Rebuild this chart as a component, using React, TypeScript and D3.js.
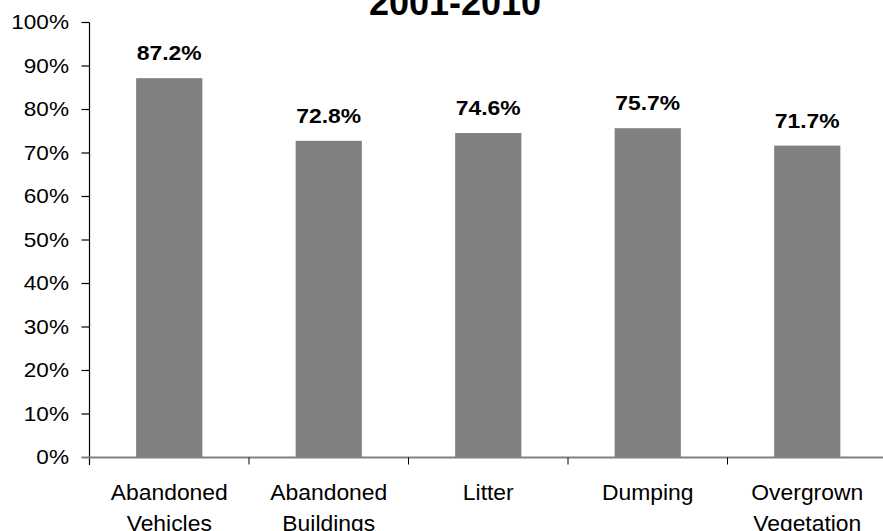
import React from "react";
import * as d3 from "d3";

// Share of complaints resolved, by category, 2001-2010
const categories: string[][] = [
  ["Abandoned", "Vehicles"],
  ["Abandoned", "Buildings"],
  ["Litter"],
  ["Dumping"],
  ["Overgrown", "Vegetation"],
];
const values: number[] = [0.872, 0.728, 0.746, 0.757, 0.717];
const yTicks: number[] = [0, 0.1, 0.2, 0.3, 0.4, 0.5, 0.6, 0.7, 0.8, 0.9, 1.0];
const title = "2001-2010";

const W = 883;
const H = 531;
const FONT = "'Liberation Sans', Arial, Helvetica, sans-serif";

export default function App() {
  const x = d3
    .scaleBand<number>()
    .domain(d3.range(categories.length))
    .range([89.5, 887])
    .paddingInner(0.585)
    .paddingOuter(0.2925);
  const y = d3.scaleLinear().domain([0, 1]).range([457.5, 22.5]);
  const fmtTick = d3.format(".0%");
  const fmtVal = d3.format(".1%");
  const step = x.step();
  const x0 = x.range()[0];

  return (
    <svg
      width={W}
      height={H}
      style={{ position: "absolute", left: 0, top: 0, background: "#fff" }}
      fontFamily={FONT}
    >
      {/* title */}
      <g transform={`translate(455,15)`}>
        <text textAnchor="middle" fontWeight="bold" fontSize={36} fill="#000">
          {title}
        </text>
      </g>

      {/* bars */}
      {values.map((v, i) => (
        <rect
          key={i}
          x={x(i)!}
          y={y(v)}
          width={x.bandwidth()}
          height={y(0) - y(v)}
          fill="#808080"
        />
      ))}

      {/* value labels */}
      {values.map((v, i) => (
        <g
          key={i}
          transform={`translate(${x(i)! + x.bandwidth() / 2},${y(v) - 18}) scale(1.09,1)`}
        >
          <text textAnchor="middle" fontWeight="bold" fontSize={21} fill="#000">
            {fmtVal(v)}
          </text>
        </g>
      ))}

      {/* y axis */}
      <line x1={89.5} x2={89.5} y1={y(1)} y2={465} stroke="#000" strokeWidth={1.2} />
      {yTicks.map((t) => (
        <g key={t}>
          {t > 0 && (
            <line x1={81.5} x2={89.5} y1={y(t)} y2={y(t)} stroke="#000" strokeWidth={1.2} />
          )}
          <g transform={`translate(69,${y(t) + 6.5}) scale(1.13,1)`}>
            <text textAnchor="end" fontSize={20} fill="#000">
              {fmtTick(t)}
            </text>
          </g>
        </g>
      ))}

      {/* x axis */}
      <line x1={81.5} x2={W} y1={y(0)} y2={y(0)} stroke="#808080" strokeWidth={2} />
      {categories.map((_, i) =>
        i > 0 ? (
          <line
            key={i}
            x1={x0 + step * i}
            x2={x0 + step * i}
            y1={y(0)}
            y2={y(0) + 7}
            stroke="#000"
            strokeWidth={1}
          />
        ) : null
      )}
      {categories.map((lines, i) => (
        <g key={i}>
          {lines.map((ln, j) => (
            <g
              key={j}
              transform={`translate(${x(i)! + x.bandwidth() / 2},${499.5 + j * 31.5}) scale(1.04,1)`}
            >
              <text textAnchor="middle" fontSize={22} fill="#000">
                {ln}
              </text>
            </g>
          ))}
        </g>
      ))}
    </svg>
  );
}
